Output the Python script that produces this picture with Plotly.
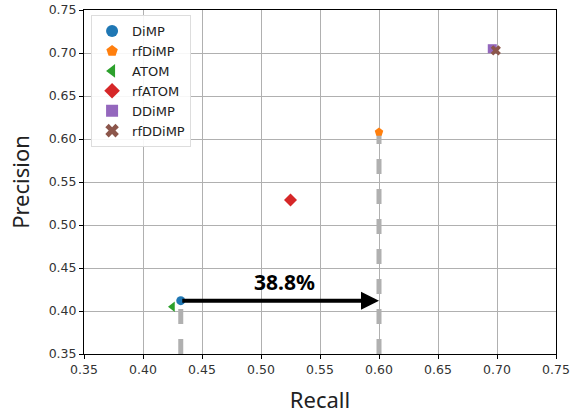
import plotly.graph_objects as go

methods = ["DiMP", "rfDiMP", "ATOM", "rfATOM", "DDiMP", "rfDDiMP"]
recall = [0.432, 0.600, 0.425, 0.525, 0.696, 0.699]
precision = [0.412, 0.608, 0.405, 0.529, 0.705, 0.703]
colors = ["#1f77b4", "#ff7f0e", "#2ca02c", "#d62728", "#9467bd", "#8c564b"]
symbols = ["circle", "pentagon", "triangle-left", "diamond", "square", "x"]
sizes = [9, 9, 9, 10, 9, 9]

gain_label = "38.8%"
x_ticks = [0.35, 0.40, 0.45, 0.50, 0.55, 0.60, 0.65, 0.70, 0.75]
y_ticks = [0.35, 0.40, 0.45, 0.50, 0.55, 0.60, 0.65, 0.70, 0.75]

fig = go.Figure()

# dashed drop lines for DiMP and rfDiMP
for i in [0, 1]:
    fig.add_trace(go.Scatter(
        x=[recall[i], recall[i]], y=[y_ticks[0], precision[i]],
        mode="lines", line=dict(color="#b0b0b0", width=5, dash="dash"),
        showlegend=False, hoverinfo="skip"))

for m, r, p, c, s, sz in zip(methods, recall, precision, colors, symbols, sizes):
    fig.add_trace(go.Scatter(
        x=[r], y=[p], mode="markers", name=m,
        marker=dict(color=c, symbol=s, size=sz, line=dict(width=0))))

fig.add_annotation(
    x=recall[1], y=precision[0], ax=recall[0], ay=precision[0],
    xref="x", yref="y", axref="x", ayref="y",
    showarrow=True, arrowhead=2, arrowsize=0.9, arrowwidth=4, arrowcolor="black", text="")
fig.add_annotation(
    x=0.5195, y=0.434, xref="x", yref="y",
    text="<b>" + gain_label + "</b>", showarrow=False,
    font=dict(size=21, color="black", family="Noto Sans"))

axis_common = dict(
    showgrid=True, gridcolor="#b0b0b0", gridwidth=1,
    showline=True, linecolor="black", linewidth=1, mirror=True,
    ticks="outside", ticklen=4, tickcolor="black",
    tickfont=dict(family="DejaVu Sans", size=12.5, color="#333"),
    zeroline=False, automargin=False,
)
fig.update_xaxes(range=[0.35, 0.75], tickvals=x_ticks,
                 ticktext=[f"{v:.2f}" for v in x_ticks],
                 title=dict(text="Recall", font=dict(family="Noto Sans", size=22, color="#222"), standoff=16),
                 **axis_common)
fig.update_yaxes(range=[0.35, 0.75], tickvals=y_ticks,
                 ticktext=[f"{v:.2f}" for v in y_ticks],
                 title=dict(text="Precision", font=dict(family="Noto Sans", size=22, color="#222"), standoff=12),
                 **axis_common)

fig.update_layout(
    width=570, height=414,
    margin=dict(l=84, r=14, t=10, b=60),
    plot_bgcolor="white", paper_bgcolor="white",
    legend=dict(x=0.015, y=0.985, xanchor="left", yanchor="top",
                bgcolor="rgba(255,255,255,0.9)", bordercolor="#dddddd", borderwidth=1,
                font=dict(family="DejaVu Sans", size=13, color="#222"),
                itemsizing="constant", tracegroupgap=0),
)

fig.write_html("out.html", config={"displayModeBar": False},
               post_script="document.body.style.margin='0';document.body.style.overflow='hidden';")
